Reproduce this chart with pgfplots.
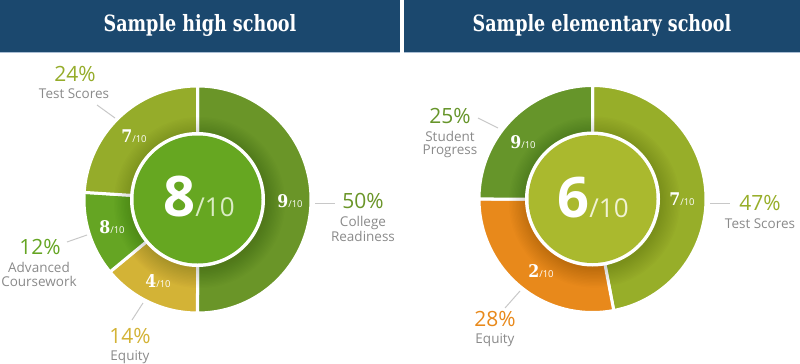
\documentclass[border=0pt]{standalone}
\usepackage{pgfplots}
\pgfplotsset{compat=1.18}
\usepackage{graphicx}
\usepackage{fontspec}
\setmainfont{Open Sans}
\newfontfamily\slab{DejaVu Serif Condensed}
\definecolor{hdr}{RGB}{27,72,110}
\definecolor{hdrline}{RGB}{170,190,212}
\definecolor{lbl}{RGB}{138,138,138}
\definecolor{ldr}{RGB}{200,200,200}
% left school
\definecolor{cCR}{RGB}{106,149,40}
\definecolor{cEQ}{RGB}{211,179,54}
\definecolor{cAC}{RGB}{101,165,35}
\definecolor{cTS}{RGB}{149,172,42}
\definecolor{cDiscL}{RGB}{102,167,33}
% right school
\definecolor{dTS}{RGB}{151,174,41}
\definecolor{dEQ}{RGB}{232,137,27}
\definecolor{dSP}{RGB}{102,149,42}
\definecolor{cDiscR}{RGB}{170,185,46}
% wedge: cx, cy, start %, end %, colour
\newcommand{\seg}[5]{\addplot[fill=#5, draw=white, line width=3pt, domain={90-3.6*(#4)}:{90-3.6*(#3)}, samples=90] ({#1+113.5*cos(x)},{#2+113.5*sin(x)}) -- (axis cs:#1,#2) -- cycle;}
\newcommand{\disc}[3]{%
  \pgfplotsinvokeforeach{1,...,14}{\fill[black, opacity=0.012] (axis cs:#1+2,#2-3) circle[radius={66+1.4*##1}];}
  \fill[white] (axis cs:#1,#2) circle[radius=67.5];
  \fill[#3] (axis cs:#1,#2) circle[radius=64];}
\newcommand{\pct}[4]{%
  \node[anchor=base, text=#3, font=\fontsize{21}{21}\selectfont, inner sep=0pt] at (axis cs:#1,#2) {#4\%};}
\newcommand{\cat}[3]{\node[anchor=base, text=lbl, font=\fontsize{13.5}{14}\selectfont, inner sep=0pt] at (axis cs:#1,#2) {#3};}
\newcommand{\score}[3]{\node[anchor=base, text=white, inner sep=0pt] at (axis cs:#1,#2) {{\slab\bfseries\fontsize{17.5}{17}\selectfont #3}{\fontsize{9.5}{10}\selectfont/10}};}
\begin{document}
\begin{tikzpicture}
\begin{axis}[scale only axis, width=800pt, height=368pt, xmin=0, xmax=800, ymin=0, ymax=368, hide axis, clip=false]
% headers
\fill[hdrline] (axis cs:0,314.5) rectangle (axis cs:400,316.5);
\fill[hdrline] (axis cs:404,314.5) rectangle (axis cs:800,316.5);
\fill[hdr] (axis cs:0,316.3) rectangle (axis cs:400,368);
\fill[hdr] (axis cs:404,316.3) rectangle (axis cs:800,368);
\node[anchor=base, text=white, font=\slab\bfseries\fontsize{19.5}{19}\selectfont, inner sep=0pt] at (axis cs:200,336.3) {\scalebox{1}[1.15]{Sample high school}};
\node[anchor=base, text=white, font=\slab\bfseries\fontsize{19.5}{19}\selectfont, inner sep=0pt] at (axis cs:602,336.3) {\scalebox{1}[1.15]{Sample elementary school}};
% ---- Sample high school: College Readiness 50, Equity 14, Advanced Coursework 12, Test Scores 24
\seg{197.5}{168.5}{0}{50}{cCR}
\seg{197.5}{168.5}{50}{64}{cEQ}
\seg{197.5}{168.5}{64}{76}{cAC}
\seg{197.5}{168.5}{76}{100}{cTS}
\disc{197.5}{168.5}{cDiscL}
\node[anchor=base, inner sep=0pt] at (axis cs:199,152) {{\bfseries\fontsize{56}{56}\selectfont\color{white}8}{\fontsize{26}{26}\selectfont\color[RGB]{218,236,196}/10}};
\score{290}{161}{9}
\score{158}{81}{4}
\score{112}{135}{8}
\score{134}{226}{7}
% ---- Sample elementary school: Test Scores 47, Equity 28, Student Progress 25
\seg{592.5}{169}{0}{47}{dTS}
\seg{592.5}{169}{47}{75}{dEQ}
\seg{592.5}{169}{75}{100}{dSP}
\disc{592.5}{169}{cDiscR}
\node[anchor=base, inner sep=0pt] at (axis cs:593,151) {{\bfseries\fontsize{56}{56}\selectfont\color{white}6}{\fontsize{26}{26}\selectfont\color[RGB]{240,242,210}/10}};
\score{682}{163}{7}
\score{541}{91}{2}
\score{523}{220}{9}
% leader lines
\draw[ldr, line width=1pt] (axis cs:97,263) -- (axis cs:115,250);
\draw[ldr, line width=1pt] (axis cs:67,126) -- (axis cs:87,133);
\draw[ldr, line width=1pt] (axis cs:132,48) -- (axis cs:143,65);
\draw[ldr, line width=1pt] (axis cs:315,165) -- (axis cs:335,165);
\draw[ldr, line width=1pt] (axis cs:478,250) -- (axis cs:498,240);
\draw[ldr, line width=1pt] (axis cs:710,165) -- (axis cs:730,165);
\draw[ldr, line width=1pt] (axis cs:505,60) -- (axis cs:520,77);
% labels left
\pct{75}{287}{cTS}{24}
\cat{74}{270}{Test Scores}
\pct{40}{114}{cAC}{12}
\cat{39}{96}{Advanced}
\cat{39}{82}{Coursework}
\pct{130}{25}{cEQ}{14}
\cat{130}{8}{Equity}
\pct{363}{160}{cCR}{50}
\cat{363}{142}{College}
\cat{363}{127}{Readiness}
% labels right
\pct{450}{245}{dSP}{25}
\cat{450}{227}{Student}
\cat{450}{214}{Progress}
\pct{760}{158}{dTS}{47}
\cat{760}{140}{Test Scores}
\pct{495}{42}{dEQ}{28}
\cat{495}{25}{Equity}
\end{axis}
\end{tikzpicture}
\end{document}
